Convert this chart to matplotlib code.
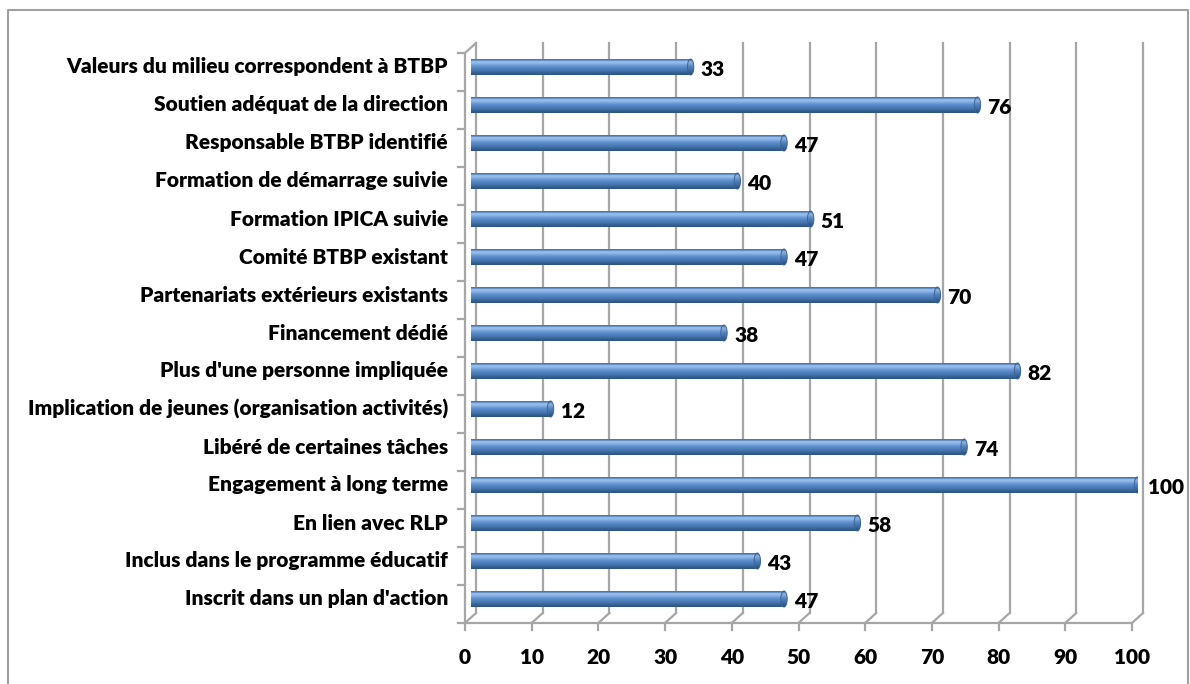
import numpy as np
import matplotlib
matplotlib.use("Agg")
import matplotlib.pyplot as plt
from matplotlib.patches import Rectangle, Ellipse
from matplotlib.colors import to_rgb

plt.rcParams['font.family'] = ['Lato', 'DejaVu Sans']

categories = [
    "Valeurs du milieu correspondent à BTBP",
    "Soutien adéquat de la direction",
    "Responsable BTBP identifié",
    "Formation de démarrage suivie",
    "Formation IPICA suivie",
    "Comité BTBP existant",
    "Partenariats extérieurs existants",
    "Financement dédié",
    "Plus d'une personne impliquée",
    "Implication de jeunes (organisation activités)",
    "Libéré de certaines tâches",
    "Engagement à long terme",
    "En lien avec RLP",
    "Inclus dans le programme éducatif",
    "Inscrit dans un plan d'action",
]
values = [33, 76, 47, 40, 51, 47, 70, 38, 82, 12, 74, 100, 58, 43, 47]
x_ticks = [0, 10, 20, 30, 40, 50, 60, 70, 80, 90, 100]

W, H = 1190, 684
fig = plt.figure(figsize=(W / 100, H / 100), dpi=100)


def box(left, top, right, bottom):
    return [left / W, 1 - bottom / H, (right - left) / W, (bottom - top) / H]


# outer chart frame
frame = fig.add_axes([0, 0, 1, 1])
frame.set_xlim(0, W)
frame.set_ylim(H, 0)
frame.axis('off')
frame.plot([8, 8, 1188, 1188], [700, 10, 10, 700], color='#A0A0A0', lw=1.5)

# plot area (the plane the bars sit in)
L, T, R, B = 470.5, 48, 1137.5, 618
ax = fig.add_axes(box(L, T, R, B))
n = len(categories)
ax.set_xlim(0, 100)
ax.set_ylim(n - 0.5, -0.5)
ax.axis('off')

ux = (R - L) / 100.0      # pixels per x unit
uy = (B - T) / n          # pixels per row
# depth offsets: front plane down-left, back wall up-right
fx, fy = -5.5 / ux, 5 / uy
bx, by = 5.5 / ux, -5 / uy

grid = dict(color='#A6A6A6', lw=1.6, clip_on=False, zorder=1)
bottom = n - 0.5

# back wall gridlines and left wall
for v in x_ticks:
    ax.plot([v + bx, v + bx], [-0.5 + by, bottom + by], **grid)
    # floor edge, tick and depth line
    ax.plot([v + fx, v + bx], [bottom + fy, bottom + by], **grid)
    ax.plot([v + fx, v + fx], [bottom + fy, bottom + fy + 7 / uy], **grid)
ax.plot([fx, 100 + fx], [bottom + fy, bottom + fy], **grid)

# front category axis
ax.plot([fx, fx], [-0.5 + fy, bottom + fy], **grid)
ax.plot([fx, bx], [-0.5 + fy, -0.5 + by], **grid)
for k in range(n + 1):
    ax.plot([fx - 7 / ux, fx], [k - 0.5 + fy, k - 0.5 + fy], **grid)

# cylinder-like bars with a vertical shading
shade = np.array([to_rgb(c) for c in
                  ['#4A78B4', '#9BC0EC', '#8CB4E6', '#6E9DD8', '#5A8ACA',
                   '#4F81BD', '#4574AE', '#3A6599', '#2F5583']])
grad = shade[:, None, :]
bh = 16 / uy
rx = 3.2 / ux
for i, v in enumerate(values):
    top, bot = i - bh / 2, i + bh / 2
    rect = Rectangle((0, top), v, bh, transform=ax.transData)
    im = ax.imshow(grad, extent=[0, v, bot, top], aspect='auto',
                   interpolation='bilinear', zorder=3)
    im.set_clip_path(rect)
    cap = Ellipse((v, i), 2 * rx, bh, transform=ax.transData)
    im2 = ax.imshow(grad * 0.92, extent=[v - rx, v + rx, bot, top],
                    aspect='auto', interpolation='bilinear', zorder=4)
    im2.set_clip_path(cap)
    ax.add_patch(Ellipse((v, i), 2 * rx, bh, fill=False, ec='#3A6599',
                         lw=0.7, zorder=5))
    ax.text(v + rx + 7 / ux, i + 2 / uy, str(v), ha='left', va='center',
            fontsize=15, fontweight='heavy', color='black', zorder=6)

ax.set_xlim(0, 100)
ax.set_ylim(n - 0.5, -0.5)

# category labels
for i, c in enumerate(categories):
    ax.text(fx - 17 / ux, i, c, ha='right', va='center', fontsize=15,
            fontweight='heavy', color='black', clip_on=False)

# value axis labels
for v in x_ticks:
    ax.text(v + fx, bottom + fy + 34 / uy, str(v), ha='center', va='center',
            fontsize=15, fontweight='heavy', color='black', clip_on=False)

fig.savefig('out.png', dpi=100)
